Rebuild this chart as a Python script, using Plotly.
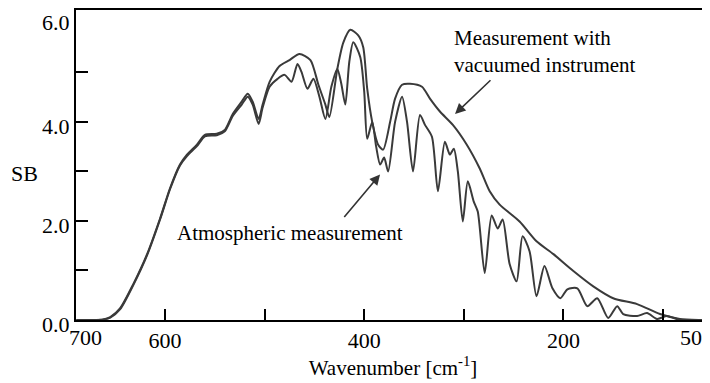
import plotly.graph_objects as go

# Vacuumed-instrument measurement (smooth upper curve)
vac_wavenumber = [689, 670, 662, 655, 645, 632, 618, 605, 595, 585, 578, 568, 560, 548, 540,
                  532, 523, 517, 512, 506, 502, 495, 485, 475, 465, 454, 446, 439, 435, 427,
                  421, 414, 406, 401, 397, 392, 386, 381, 374, 369, 362, 354, 342, 334, 324,
                  311, 297, 284, 274, 264, 244, 227, 210, 190, 170, 150, 126, 103, 83, 63, 53]
vac_sb = [0.0, 0.0, 0.01, 0.06, 0.24, 0.72, 1.33, 2.05, 2.66, 3.14, 3.34, 3.54, 3.74, 3.76, 3.84,
          4.16, 4.41, 4.57, 4.41, 4.06, 4.35, 4.81, 5.13, 5.25, 5.37, 5.25, 4.75, 4.35, 4.10, 5.07,
          5.60, 5.86, 5.75, 5.51, 4.67, 4.00, 3.54, 3.44, 4.00, 4.47, 4.75, 4.77, 4.71, 4.47, 4.21,
          3.94, 3.54, 3.06, 2.60, 2.33, 1.99, 1.59, 1.33, 0.99, 0.68, 0.44, 0.32, 0.12, 0.02, 0.0, 0.0]

# Atmospheric measurement (lower curve with absorption lines)
atm_wavenumber = [689, 670, 662, 655, 645, 632, 618, 605, 595, 585, 578, 568, 560, 548, 540,
                  532, 523, 517, 512, 506, 502, 495, 487, 480, 473, 467, 463, 457, 451, 445,
                  439, 433, 427, 423, 419, 415, 411, 404, 400, 397, 392, 388, 384, 380, 376,
                  369, 362, 357, 351, 344, 339, 332, 326, 319, 314, 310, 306, 301, 296, 290,
                  286, 279, 272, 266, 261, 254, 247, 241, 234, 227, 219, 211, 203, 196, 186,
                  176, 166, 155, 146, 140, 126, 116, 106, 96, 83, 63, 53]
atm_sb = [0.0, 0.0, 0.01, 0.05, 0.22, 0.70, 1.31, 2.03, 2.64, 3.12, 3.31, 3.51, 3.71, 3.73, 3.81,
          4.12, 4.35, 4.51, 4.35, 3.96, 4.29, 4.71, 4.87, 4.95, 4.81, 5.17, 5.01, 4.67, 4.87, 4.51,
          4.06, 4.71, 5.07, 4.77, 4.35, 5.21, 5.61, 5.31, 4.61, 3.66, 4.00, 3.50, 3.14, 3.28, 3.00,
          4.00, 4.51, 4.00, 3.00, 4.14, 3.94, 3.70, 2.60, 3.60, 3.34, 3.46, 3.00, 1.99, 2.80, 2.39,
          2.19, 0.95, 2.11, 1.85, 2.03, 1.13, 0.78, 1.69, 1.39, 0.48, 1.09, 0.64, 0.44, 0.62, 0.64,
          0.28, 0.44, 0.04, 0.28, 0.12, 0.08, 0.14, 0.02, 0.08, 0.0, 0.0, 0.0]

x_tickvals = [600, 500, 400, 300, 200, 100]
x_ticktext = ["600", "", "400", "", "200", ""]
y_tickvals = [0, 1, 2, 3, 4, 5]
y_ticktext = ["0.0", "", "2.0", "", "4.0", ""]

FONT = "Liberation Serif, Times New Roman, serif"
LINE = "#3a3a3a"

fig = go.Figure()
fig.add_trace(go.Scatter(x=vac_wavenumber, y=vac_sb, mode="lines",
                         line=dict(color=LINE, width=2, shape="spline", smoothing=0.7),
                         showlegend=False, hoverinfo="skip"))
fig.add_trace(go.Scatter(x=atm_wavenumber, y=atm_sb, mode="lines",
                         line=dict(color=LINE, width=2, shape="spline", smoothing=0.7),
                         showlegend=False, hoverinfo="skip"))

# page body adds an 8px offset, so the figure is 702x375 placed at (8, 8)
fig.update_layout(
    width=702, height=375,
    margin=dict(l=68, r=0, t=0, b=63),
    paper_bgcolor="white", plot_bgcolor="white",
    font=dict(family=FONT, size=21, color="black"),
    xaxis=dict(range=[689.4, 52.8], showgrid=False, zeroline=False,
               showline=True, linecolor="black", linewidth=2, mirror=True,
               ticks="inside", ticklen=11, tickwidth=2, tickcolor="black",
               tickvals=x_tickvals, ticktext=x_ticktext,
               tickfont=dict(family=FONT, size=22),
               title=dict(text="Wavenumber [cm<sup>-1</sup>]", font=dict(family=FONT, size=21),
                          standoff=2)),
    yaxis=dict(range=[0, 6.26], showgrid=False, zeroline=False,
               showline=True, linecolor="black", linewidth=2,
               ticks="inside", ticklen=12, tickwidth=2, tickcolor="black",
               tickvals=y_tickvals, ticktext=y_ticktext, ticklabelshift=4,
               tickfont=dict(family=FONT, size=22)),
)

annotations = [
    dict(text="6.0", x=0, y=6.0, xref="paper", yref="y", xanchor="right", yanchor="middle",
         xshift=-4, showarrow=False, font=dict(family=FONT, size=22)),
    dict(text="700", x=680, y=-0.057, xref="x", yref="paper", xanchor="center", yanchor="middle",
         showarrow=False, font=dict(family=FONT, size=22)),
    dict(text="50", x=72, y=-0.057, xref="x", yref="paper", xanchor="center", yanchor="middle",
         showarrow=False, font=dict(family=FONT, size=22)),
    dict(text="SB", x=-0.082, y=0.471, xref="paper", yref="paper", xanchor="center", yanchor="middle",
         showarrow=False, font=dict(family=FONT, size=22)),
    dict(text="Measurement with<br>vacuumed instrument", x=0.593, y=0.865, xref="paper", yref="paper",
         xanchor="left", yanchor="middle", align="left", showarrow=False,
         font=dict(family=FONT, size=21)),
    dict(text="Atmospheric measurement", x=0.156, y=0.280, xref="paper", yref="paper",
         xanchor="left", yanchor="middle", showarrow=False, font=dict(family=FONT, size=21)),
    dict(text="", x=308.8, y=4.16, ax=271.7, ay=4.87, xref="x", yref="y", axref="x", ayref="y",
         showarrow=True, arrowhead=2, arrowsize=1.3, arrowwidth=1.6, arrowcolor="#333333"),
    dict(text="", x=384.1, y=2.94, ax=421.3, ay=2.05, xref="x", yref="y", axref="x", ayref="y",
         showarrow=True, arrowhead=2, arrowsize=1.3, arrowwidth=1.6, arrowcolor="#333333"),
]
fig.update_layout(annotations=annotations)

fig.write_html("out.html")
